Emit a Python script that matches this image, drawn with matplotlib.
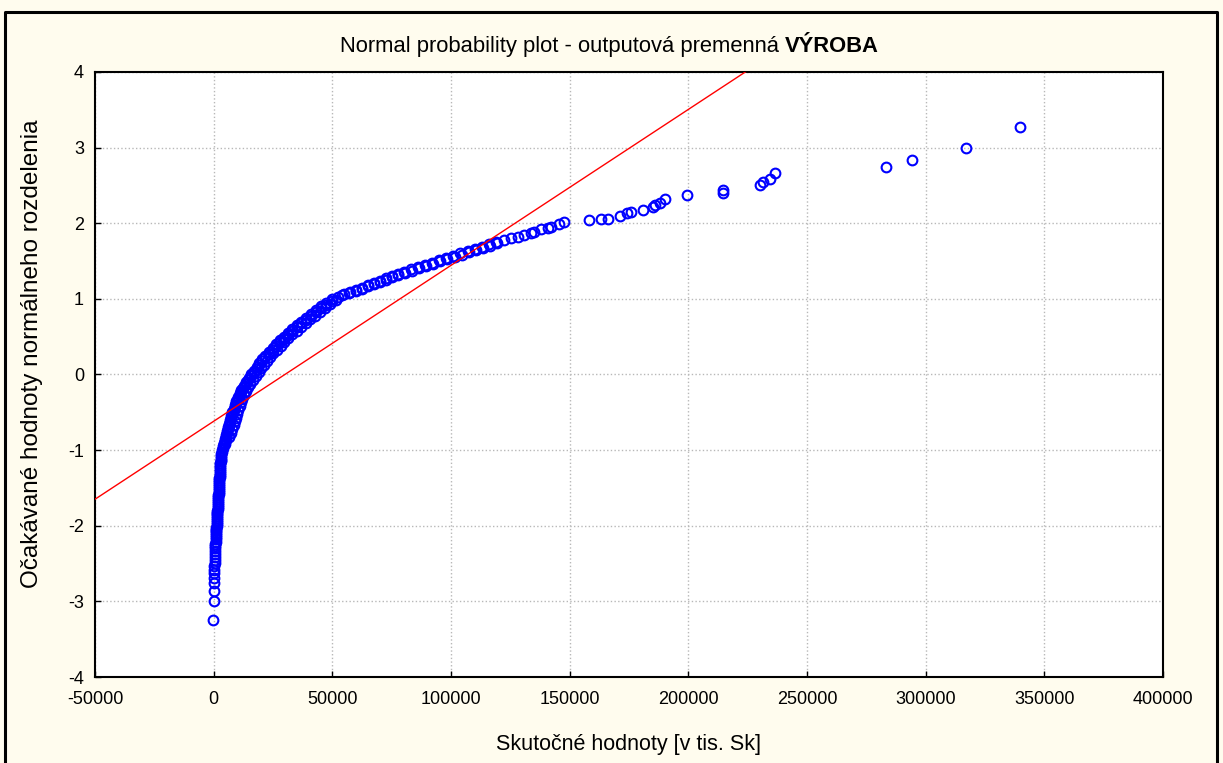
import matplotlib.pyplot as plt
from matplotlib.lines import Line2D

# data (sorted values vs. expected normal scores)
tail_low_x = [-300, 0, 100, 150, 200, 250, 300, 350, 400, 450, 500, 550, 600, 650, 700, 750, 800, 850]
tail_low_y = [-3.24, -3.00, -2.86, -2.76, -2.69, -2.63, -2.58, -2.53, -2.49, -2.45, -2.41, -2.37,
              -2.33, -2.30, -2.27, -2.24, -2.21, -2.18]

band_y = [-2.15, -2.10, -2.05, -2.00, -1.95, -1.90, -1.85, -1.80, -1.75, -1.70, -1.65, -1.60,
          -1.55, -1.50, -1.45, -1.40, -1.35, -1.30, -1.25, -1.20, -1.15, -1.10, -1.05, -1.00,
          -0.95, -0.90, -0.85, -0.80, -0.75, -0.70, -0.65, -0.60, -0.55, -0.50, -0.45, -0.40,
          -0.35, -0.30, -0.25, -0.20, -0.15, -0.10, -0.05, 0.00, 0.05, 0.10, 0.15, 0.20,
          0.25, 0.30, 0.35, 0.40, 0.45, 0.50, 0.55, 0.60, 0.65, 0.70, 0.75, 0.80,
          0.85, 0.90, 0.95, 1.00, 1.03, 1.06, 1.09, 1.12, 1.15, 1.18, 1.21, 1.24,
          1.27, 1.30, 1.33, 1.36, 1.39, 1.42, 1.45, 1.48, 1.51, 1.54, 1.57, 1.60,
          1.63, 1.66, 1.69, 1.72, 1.75]
band_x = [900, 1000, 1100, 1200, 1300, 1400, 1500, 1600, 1700, 1800, 1900, 2000,
          2100, 2200, 2300, 2400, 2500, 2600, 2700, 2800, 2900, 3000, 3200, 3500,
          3900, 4300, 4800, 5300, 5800, 6200, 6600, 7000, 7400, 7900, 8400, 9000,
          9600, 10200, 10900, 11600, 12600, 13600, 14700, 15900, 17000, 18100, 19200, 20400,
          21800, 23200, 24800, 26400, 28000, 29700, 31400, 33200, 35000, 37000, 39000, 41000,
          43000, 45200, 47500, 50000, 52500, 55000, 57500, 60000, 62500, 65000, 67500, 70000,
          72500, 75000, 77500, 80000, 83000, 86000, 89000, 92000, 95000, 98000, 101000, 104000,
          107000, 110000, 113000, 116000, 119000]

# points lying between the ones above (the band is several markers thick)
band2_y = [-2.125, -2.075, -2.025, -1.975, -1.925, -1.875, -1.825, -1.775, -1.725, -1.675,
           -1.625, -1.575, -1.525, -1.475, -1.425, -1.375, -1.325, -1.275, -1.225, -1.175,
           -1.125, -1.075, -1.025, -0.975, -0.925, -0.875, -0.825, -0.775, -0.725, -0.675,
           -0.625, -0.575, -0.525, -0.475, -0.425, -0.375, -0.325, -0.275, -0.225, -0.175,
           -0.125, -0.075, -0.025, 0.025, 0.075, 0.125, 0.175, 0.225, 0.275, 0.325,
           0.375, 0.425, 0.475, 0.525, 0.575, 0.625, 0.675, 0.725, 0.775, 0.825,
           0.875, 0.925, 0.975, 1.045, 1.075, 1.105, 1.135, 1.165, 1.195, 1.225,
           1.255, 1.285, 1.315, 1.345, 1.375, 1.405, 1.435, 1.465, 1.495, 1.525,
           1.555, 1.585, 1.615, 1.645, 1.675, 1.705, 1.735]
band2_x = [1000, 1050, 1150, 1250, 1350, 1450, 1550, 1650, 1750, 1850,
           1950, 2050, 2150, 2250, 2350, 2450, 2550, 2650, 2750, 2850,
           2950, 3100, 3400, 3800, 4200, 4700, 5200, 5700, 6200, 6600,
           7000, 7400, 7900, 8400, 9000, 9600, 10200, 10900, 11600, 12500,
           13500, 14600, 15800, 17000, 18100, 19200, 20400, 21800, 23200, 24800,
           26400, 28000, 29700, 31400, 33200, 35000, 37000, 39000, 41000, 43000,
           45200, 47500, 50000, 54000, 57000, 60000, 62500, 65000, 67500, 70000,
           72500, 75000, 77500, 80500, 83500, 86500, 89500, 92500, 95500, 98500,
           101500, 104500, 107500, 110500, 113500, 116500, 119500]

# outer edge of the thick part of the band
band3_y = [-0.92, -0.87, -0.82, -0.77, -0.72, -0.67, -0.62, -0.57, -0.52, -0.47,
           -0.42, -0.37, -0.32, -0.27, -0.22, -0.17, -0.12, -0.07, -0.02, 0.03,
           0.08, 0.13, 0.18, 0.23, 0.28, 0.33, 0.38, 0.43, 0.48, 0.53,
           0.58, 0.63, 0.68, 0.73, 0.78, 0.83, 0.88, 0.93, 0.98]
band3_x = [4700, 5400, 6300, 7200, 7900, 8400, 8900, 9300, 9800, 10300,
           10900, 11500, 12100, 12800, 13500, 14400, 15500, 16700, 17900, 19000,
           20100, 21200, 22400, 23700, 25100, 26600, 28200, 29800, 31500, 33200,
           35000, 36800, 38700, 40700, 42700, 44700, 46800, 49000, 51500]

tail_high_x = [122300, 125200, 128200, 130700, 133600, 134900, 137800, 140800, 142000, 145400,
               147500, 158000, 163000, 166000, 171000, 174000, 176000, 181000, 185000, 186000,
               188000, 190000, 199600, 214700, 214700, 230000, 231500, 234500, 236600, 283200,
               294100, 316800, 339900]
tail_high_y = [1.78, 1.81, 1.82, 1.85, 1.87, 1.89, 1.93, 1.94, 1.95, 1.99,
               2.01, 2.04, 2.06, 2.05, 2.10, 2.13, 2.15, 2.18, 2.21, 2.24,
               2.27, 2.32, 2.38, 2.40, 2.44, 2.50, 2.55, 2.59, 2.67, 2.74,
               2.83, 3.00, 3.27]

# reference normal line: y = (x - mean) / sd
line_mean = 30000
line_sd = 48500

x_ticks = [-50000, 0, 50000, 100000, 150000, 200000, 250000, 300000, 350000, 400000]
y_ticks = [-4, -3, -2, -1, 0, 1, 2, 3, 4]

plt.rcParams['font.family'] = ['Liberation Sans', 'DejaVu Sans']
plt.rcParams['axes.unicode_minus'] = False

fig = plt.figure(figsize=(12.23, 7.63), dpi=100, facecolor='#fffcee')
ax = fig.add_axes([95 / 1223, 1 - 677 / 763, (1163 - 95) / 1223, (677 - 72) / 763])
ax.set_facecolor('white')

xs = tail_low_x + band_x + band2_x + band3_x + tail_high_x
ys = tail_low_y + band_y + band2_y + band3_y + tail_high_y
ax.plot(xs, ys, linestyle='none', marker='o', ms=7, mfc='none', mec='#0000ff', mew=1.5, zorder=3)

lx = [x_ticks[0], x_ticks[-1]]
ax.plot(lx, [(v - line_mean) / line_sd for v in lx], color='red', lw=1, zorder=4)

ax.set_xlim(x_ticks[0], x_ticks[-1])
ax.set_ylim(y_ticks[0], y_ticks[-1])
ax.set_xticks(x_ticks)
ax.set_yticks(y_ticks)
ax.set_xticklabels([str(v) for v in x_ticks])
ax.grid(True, color='#b8b8b8', linestyle=':', linewidth=1)
ax.tick_params(direction='in', length=4, width=1, labelsize=13, color='black')
ax.tick_params(axis='x', pad=10)
ax.tick_params(axis='y', pad=8)
for s in ax.spines.values():
    s.set_linewidth(1.5)
    s.set_color('black')

ax.set_xlabel("Skutočné hodnoty [v tis. Sk]", fontsize=15.5, labelpad=19)
ax.set_ylabel("Očakávané hodnoty normálneho rozdelenia", fontsize=17.5)
ax.yaxis.set_label_coords((43 - 95) / 1068, (677 - 354) / 605)

# title: normal part followed by bold part
t1 = fig.text(340 / 1223, 1 - 52 / 763, "Normal probability plot - outputová premenná ",
              fontsize=15.8, ha='left', va='baseline')
ax.annotate("VÝROBA", xy=(1, 0), xycoords=t1, xytext=(0, 0), textcoords='offset points',
            fontsize=15.8, fontweight='bold', ha='left', va='bottom', annotation_clip=False)

# outer frame (left, top, right)
fig.add_artist(Line2D([5 / 1223, 5 / 1223, 1217 / 1223, 1217 / 1223],
                      [0, 1 - 12 / 763, 1 - 12 / 763, 0],
                      transform=fig.transFigure, color='black', lw=2.2))

plt.savefig("out.png", dpi=100, facecolor=fig.get_facecolor())
